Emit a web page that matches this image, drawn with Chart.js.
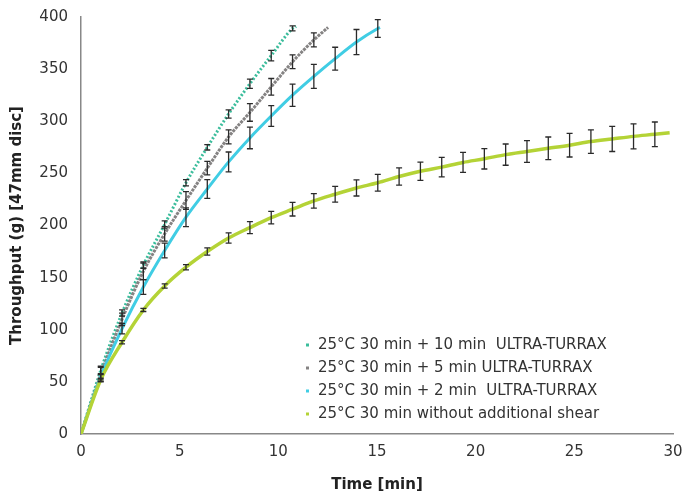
<!DOCTYPE html>
<html>
<head>
<meta charset="utf-8">
<script src="https://cdn.jsdelivr.net/npm/chart.js@4.4.0/dist/chart.umd.min.js"></script>
<style>
  html, body { margin: 0; padding: 0; background: #fff; }
  #wrap { width: 683px; height: 498px; position: relative; }
</style>
</head>
<body>
<div id="wrap"><canvas id="chart"></canvas></div>
<script>
// sample times (min) where error bars sit
const times = [0, 1.0, 2.08, 3.16, 4.24, 5.32, 6.4, 7.48, 8.56, 9.64, 10.72, 11.8, 12.88, 13.96,
  15.04, 16.12, 17.2, 18.28, 19.36, 20.44, 21.52, 22.6, 23.68, 24.76, 25.84, 26.92, 28.0, 29.08];

const labels = [
  '25°C 30 min + 10 min  ULTRA-TURRAX',
  '25°C 30 min + 5 min ULTRA-TURRAX',
  '25°C 30 min + 2 min  ULTRA-TURRAX',
  '25°C 30 min without additional shear'
];

// throughput (g) per series
const ut10 = [0, 61, 116, 162, 201, 241, 275, 307, 336, 363, 389];
const ut5 = [0, 57, 110, 156, 192, 224, 255, 285, 308.5, 333, 357, 378];
const ut2 = [0, 55, 101, 141, 176, 208, 235, 261, 284, 305, 325, 343, 360, 376, 389];
const noShear = [0, 52, 88, 119, 142, 160, 175, 188, 198, 207.5, 215.6, 223.6, 230, 236, 241,
  247, 252, 256, 260.5, 264, 268, 271, 274, 277, 280.5, 283, 285.5, 287.5];

// +/- error (g)
const ut10Err = [null, 4, 3, 3, 3.5, 3, 2.6, 4, 4.5, 5, 2.4];
const ut5Err = [null, 7, 6, 8, 7, 8.5, 6.5, 6.7, 8.5, 8, 6.6, 6.7];
const ut2Err = [null, 3, 5, 7, 7, 9, 9, 9.5, 10.4, 10, 10.7, 11.5, 11, 12, 8.5];
const noShearErr = [null, 1.5, 1.5, 1.5, 2, 2.5, 3.5, 5, 5.7, 6, 6.5, 7, 7.5, 7.7, 8, 8.3, 8.8,
  9.4, 9.6, 9.8, 10.2, 10.5, 10.9, 11.3, 11.3, 12, 12, 11.8];

// where each run stopped [time, throughput]
const ut10End = [10.9, 391];
const ut5End = [12.52, 390];
const ut2End = [15.15, 390];
const noShearEnd = [29.83, 289];

const colors = ['#3bbd9c', '#858383', '#40cde4', '#b4d336'];

function pts(vals, end) {
  const p = vals.map((v, i) => ({ x: times[i], y: v }));
  p.push({ x: end[0], y: end[1] });
  return p;
}

const FONT = 'DejaVu Sans';

const errorBars = {
  id: 'errorBars',
  afterDatasetsDraw(chart) {
    const { ctx, scales: { x, y } } = chart;
    ctx.save();
    ctx.strokeStyle = '#2a2a2a';
    ctx.lineWidth = 1.3;
    chart.data.datasets.forEach(ds => {
      ds.errors.forEach((e, i) => {
        if (e == null) return;
        const px = x.getPixelForValue(times[i]);
        const y1 = y.getPixelForValue(ds.data[i].y + e);
        const y2 = y.getPixelForValue(ds.data[i].y - e);
        ctx.beginPath();
        ctx.moveTo(px, y1); ctx.lineTo(px, y2);
        ctx.moveTo(px - 3, y1); ctx.lineTo(px + 3, y1);
        ctx.moveTo(px - 3, y2); ctx.lineTo(px + 3, y2);
        ctx.stroke();
      });
    });
    ctx.restore();
  }
};

const legendBox = {
  id: 'legendBox',
  afterDraw(chart) {
    const ctx = chart.ctx;
    ctx.save();
    ctx.font = '15px "' + FONT + '"';
    ctx.textBaseline = 'middle';
    chart.data.datasets.forEach((ds, i) => {
      const yy = 345 + i * 23;
      ctx.fillStyle = ds.borderColor;
      ctx.fillRect(306, yy - 1.5, 3, 3);
      ctx.fillStyle = '#333';
      ctx.fillText(ds.label, 318, yy);
    });
    ctx.restore();
  }
};

const series = [
  { vals: ut10, err: ut10Err, end: ut10End, dash: [2, 2], w: 3 },
  { vals: ut5, err: ut5Err, end: ut5End, dash: [3, 1], w: 3 },
  { vals: ut2, err: ut2Err, end: ut2End, dash: [], w: 3 },
  { vals: noShear, err: noShearErr, end: noShearEnd, dash: [], w: 3.5 }
];

new Chart(document.getElementById('chart'), {
  type: 'line',
  data: {
    datasets: series.map((s, i) => ({
      label: labels[i],
      data: pts(s.vals, s.end),
      errors: s.err,
      borderColor: colors[i],
      backgroundColor: colors[i],
      borderWidth: s.w,
      borderDash: s.dash,
      pointRadius: 0,
      cubicInterpolationMode: 'monotone',
      fill: false,
      order: 3 - i
    }))
  },
  options: {
    responsive: true,
    maintainAspectRatio: false,
    animation: false,
    layout: { padding: { top: 17, right: 0, left: 0, bottom: 0 } },
    plugins: { legend: { display: false }, tooltip: { enabled: false } },
    scales: {
      x: {
        type: 'linear', min: 0, max: 30,
        afterFit: s => { s.height = 64; s.paddingRight = 10; },
        ticks: { stepSize: 5, color: '#333', font: { family: FONT, size: 15 }, padding: 4 },
        grid: { display: false, drawTicks: true, tickLength: 5, tickColor: '#888' },
        border: { color: '#888', width: 1.5 },
        title: { display: true, text: 'Time [min]', color: '#222', font: { family: FONT, size: 15, weight: 'bold' }, padding: { top: 2 } }
      },
      y: {
        min: 0, max: 400,
        afterFit: s => { s.width = 81; },
        ticks: { stepSize: 50, color: '#333', font: { family: FONT, size: 15 }, padding: 8 },
        grid: { display: false, drawTicks: true, tickLength: 5, tickColor: '#888' },
        border: { color: '#888', width: 1.5 },
        title: { display: true, text: 'Throughput (g) [47mm disc]', color: '#222', font: { family: FONT, size: 15, weight: 'bold' }, padding: { top: 8, bottom: 4 } }
      }
    }
  },
  plugins: [errorBars, legendBox]
});
</script>
</body>
</html>
